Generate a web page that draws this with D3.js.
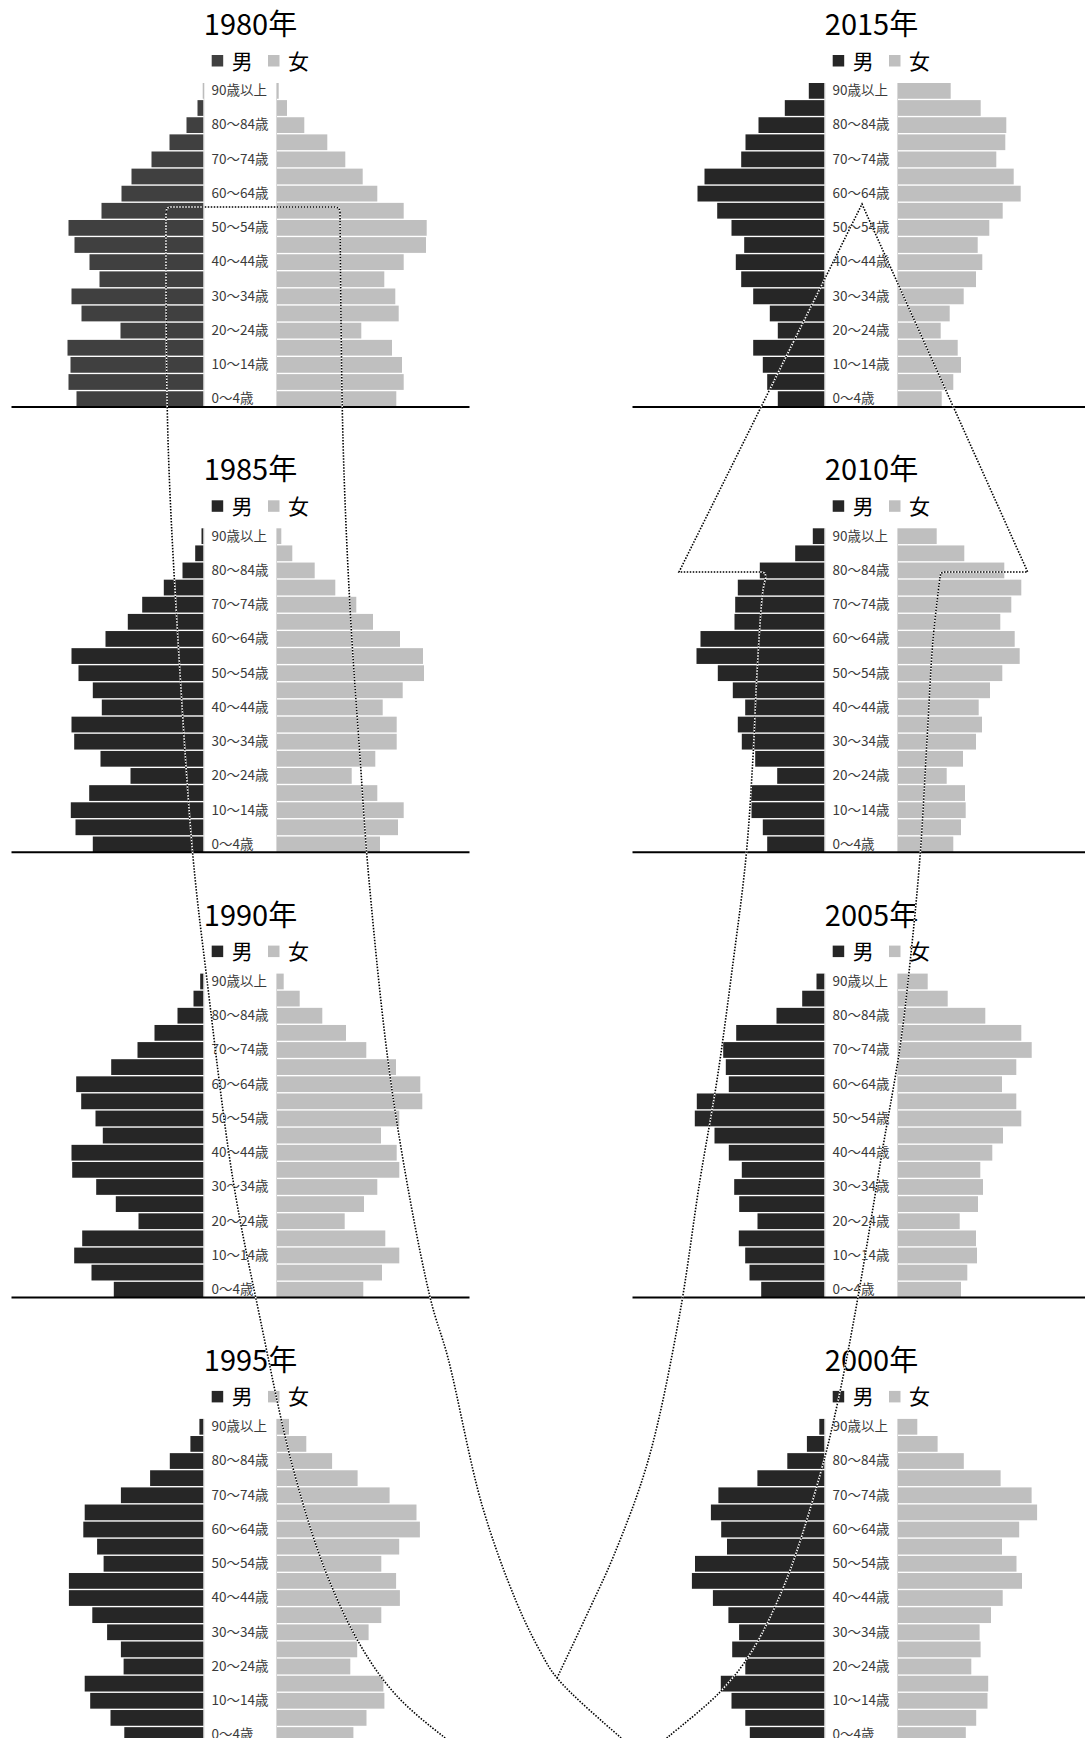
<!DOCTYPE html>
<html>
<head>
<meta charset="utf-8">
<script src="https://cdn.jsdelivr.net/npm/d3@7"></script>
<style>
  body { margin: 0; background: #fff; }
  svg { display: block; font-family: "Noto Sans CJK JP", "Noto Sans", sans-serif; }
</style>
</head>
<body>
<div id="chart"></div>
<script>
// age groups, youngest first
var ageGroups = ["0～4歳", "5～9歳", "10～14歳", "15～19歳", "20～24歳", "25～29歳", "30～34歳",
  "35～39歳", "40～44歳", "45～49歳", "50～54歳", "55～59歳", "60～64歳", "65～69歳", "70～74歳",
  "75～79歳", "80～84歳", "85～89歳", "90歳以上"];
// only every other label is printed
var tickLabels = ["0～4歳", "10～14歳", "20～24歳", "30～34歳", "40～44歳", "50～54歳",
  "60～64歳", "70～74歳", "80～84歳", "90歳以上"];
var seriesNames = ["男", "女"];

// population by age group, youngest first
var male1980 = [1270, 1350, 1330, 1360, 830, 1220, 1320, 1040, 1140, 1290, 1350, 1020, 820, 720, 520, 340, 170, 60, 6];
var female1980 = [1193, 1267, 1250, 1150, 843, 1217, 1183, 1073, 1267, 1490, 1497, 1267, 1003, 857, 683, 503, 273, 100, 17];
var male1985 = [1107, 1280, 1327, 1143, 730, 1030, 1293, 1320, 1017, 1107, 1250, 1320, 980, 757, 613, 397, 210, 83, 20];
var female1985 = [1030, 1210, 1267, 1003, 747, 983, 1197, 1197, 1057, 1257, 1470, 1460, 1230, 960, 793, 583, 377, 153, 43];
var male1990 = [897, 1120, 1293, 1213, 650, 877, 1073, 1313, 1320, 1007, 1080, 1223, 1273, 923, 660, 490, 260, 100, 33];
var female1990 = [863, 1050, 1223, 1083, 677, 870, 1003, 1223, 1197, 1040, 1223, 1453, 1433, 1190, 893, 690, 453, 227, 67];
var male1995 = [792, 930, 1133, 1188, 799, 826, 964, 1112, 1346, 1346, 999, 1064, 1202, 1188, 826, 534, 337, 131, 41];
var female1995 = [764, 895, 1074, 1064, 733, 802, 916, 1043, 1229, 1191, 1043, 1222, 1429, 1395, 1126, 806, 551, 293, 120];
var male2000 = [747, 792, 930, 1037, 792, 923, 854, 961, 1116, 1326, 1295, 975, 1033, 1136, 1061, 671, 372, 176, 52];
var female2000 = [678, 782, 895, 902, 733, 826, 816, 930, 1047, 1240, 1185, 1040, 1212, 1391, 1336, 1026, 658, 396, 193];
var male2005 = [633, 750, 793, 857, 670, 853, 903, 827, 957, 1100, 1297, 1277, 957, 987, 1013, 883, 480, 223, 80];
var female2005 = [630, 693, 790, 780, 617, 800, 850, 823, 943, 1050, 1233, 1183, 1040, 1183, 1337, 1233, 873, 497, 297];
var male2010 = [573, 617, 730, 740, 473, 693, 827, 867, 793, 917, 1067, 1280, 1240, 900, 893, 867, 647, 293, 117];
var female2010 = [553, 630, 677, 670, 487, 650, 780, 840, 807, 920, 1043, 1217, 1167, 1023, 1133, 1233, 1063, 663, 387];
var male2015 = [467, 573, 617, 713, 467, 547, 713, 833, 887, 803, 930, 1073, 1270, 1200, 833, 790, 660, 397, 157];
var female2015 = [437, 553, 630, 597, 427, 517, 657, 780, 843, 797, 913, 1047, 1227, 1157, 983, 1073, 1083, 827, 527];

// left column top to bottom, then right column top to bottom
var panels = [
  {year: 1980, col: 0, row: 0, male: male1980, female: female1980},
  {year: 1985, col: 0, row: 1, male: male1985, female: female1985},
  {year: 1990, col: 0, row: 2, male: male1990, female: female1990},
  {year: 1995, col: 0, row: 3, male: male1995, female: female1995},
  {year: 2015, col: 1, row: 0, male: male2015, female: female2015},
  {year: 2010, col: 1, row: 1, male: male2010, female: female2010},
  {year: 2005, col: 1, row: 2, male: male2005, female: female2005},
  {year: 2000, col: 1, row: 3, male: male2000, female: female2000}
];

var width = 1085, height = 1738;
var colCenter = [240.5, 861.5], rowStep = 445.3;
var barTop = 83, barHeight = 324;
var maleEnd = -37, femaleStart = 36.5;

var svg = d3.select("#chart")
  .append("svg")
    .attr("width", width)
    .attr("height", height);

var x = d3.scaleLinear()
  .domain([0, 1500])
  .range([0, 150]);

var y = d3.scaleBand()
  .domain(ageGroups.slice().reverse())
  .range([0, barHeight])
  .paddingInner(0.08);

panels.forEach(function(p) {
  var maleColor = p.year === 1980 ? "#404040" : "#262626";
  var colors = [maleColor, "#bfbfbf"];
  var g = svg.append("g")
    .attr("transform", "translate(" + colCenter[p.col] + "," + (p.row * rowStep) + ")");

  // title
  g.append("text")
    .attr("x", 10)
    .attr("y", 35)
    .attr("text-anchor", "middle")
    .style("font-size", "29px")
    .text(p.year + "年");

  // legend
  var legend = g.selectAll(".legend")
    .data(seriesNames)
    .enter().append("g")
      .attr("transform", function(d, i) { return "translate(" + (i === 0 ? -28.8 : 27.5) + ",0)"; });
  legend.append("rect")
    .attr("x", 0)
    .attr("y", 55)
    .attr("width", 11.5)
    .attr("height", 11.5)
    .attr("fill", function(d, i) { return colors[i]; });
  legend.append("text")
    .attr("x", 20)
    .attr("y", 68.5)
    .style("font-size", "21px")
    .text(function(d) { return d; });

  var plot = g.append("g")
    .attr("transform", "translate(0," + barTop + ")");

  // male bars
  plot.selectAll(".male")
    .data(p.male)
    .enter().append("rect")
      .attr("x", function(d) { return maleEnd - x(d); })
      .attr("y", function(d, i) { return y(ageGroups[i]); })
      .attr("width", function(d) { return x(d); })
      .attr("height", y.bandwidth())
      .attr("fill", maleColor);

  // female bars
  plot.selectAll(".female")
    .data(p.female)
    .enter().append("rect")
      .attr("x", femaleStart)
      .attr("y", function(d, i) { return y(ageGroups[i]); })
      .attr("width", function(d) { return x(d); })
      .attr("height", y.bandwidth())
      .attr("fill", "#bfbfbf");

  // thin axis lines at the bar roots
  [maleEnd + 0.5, femaleStart - 0.5].forEach(function(ax) {
    plot.append("line")
      .attr("x1", ax).attr("x2", ax)
      .attr("y1", 0).attr("y2", barHeight)
      .attr("stroke", "#d9d9d9")
      .attr("stroke-width", 1);
  });

  // age labels
  var axis = plot.append("g")
    .attr("transform", "translate(-32,0)")
    .call(d3.axisRight(y).tickValues(tickLabels).tickSize(0).tickPadding(3));
  axis.select(".domain").remove();
  axis.selectAll("text")
    .attr("fill", "#3a3a3a")
    .style("font-size", "13.5px")
    .style("font-family", "'Noto Sans CJK JP', sans-serif")
    .each(function() {
      if (this.getComputedTextLength() > 60) {
        d3.select(this).attr("textLength", 60).attr("lengthAdjust", "spacingAndGlyphs");
      }
    });

  // baseline
  g.append("line")
    .attr("x1", -229).attr("x2", 229)
    .attr("y1", barTop + barHeight).attr("y2", barTop + barHeight)
    .attr("stroke", "#000")
    .attr("stroke-width", 2);
});

// cohort arrow drawn over the pyramids (dotted)
var curve = d3.line().curve(d3.curveCatmullRom.alpha(0.5));
var straight = d3.line();

var leftOuter = [[166, 212], [168, 440], [180, 673], [193, 857], [207, 980], [233, 1180], [260, 1318],
  [293, 1468], [327, 1575], [362, 1648], [396, 1695], [444, 1737], [480, 1762]];
var leftInner = [[340, 212], [343, 440], [350, 607], [360, 757], [369, 880], [393, 1097], [430, 1297],
  [448, 1358], [482, 1505], [516, 1601], [540, 1651], [557, 1678], [620, 1737], [650, 1762]];
var rightInner = [[557, 1678], [590, 1608], [614, 1555], [648, 1461], [679, 1318], [700, 1180],
  [717, 1080], [733, 963], [746, 857], [753, 757], [757, 673], [763, 590], [766, 577]];
var rightOuter = [[940, 577], [933, 640], [927, 740], [920, 857], [910, 963], [900, 1047], [883, 1147],
  [858, 1297], [838, 1401], [820, 1475], [786, 1581], [752, 1651], [721, 1691], [668, 1737], [640, 1760]];
var boxTop = [[166, 212], [167, 208], [171, 207], [335, 207], [339, 208], [340, 212]];
var arrowHead = [[766, 577], [765, 573], [761, 572], [679, 572], [862, 204], [1027.7, 572],
  [945, 572], [941, 573], [940, 577]];

var guides = [curve(leftOuter), curve(leftInner), curve(rightInner), curve(rightOuter),
  straight(boxTop), straight(arrowHead)];

var guideG = svg.append("g").attr("fill", "none");
guideG.selectAll(".under")
  .data(guides)
  .enter().append("path")
    .attr("d", function(d) { return d; })
    .attr("stroke", "#fff")
    .attr("stroke-width", 1.6);
guideG.selectAll(".dots")
  .data(guides)
  .enter().append("path")
    .attr("d", function(d) { return d; })
    .attr("stroke", "#000")
    .attr("stroke-width", 1.6)
    .attr("stroke-dasharray", "1.5,1.5");
</script>
</body>
</html>
